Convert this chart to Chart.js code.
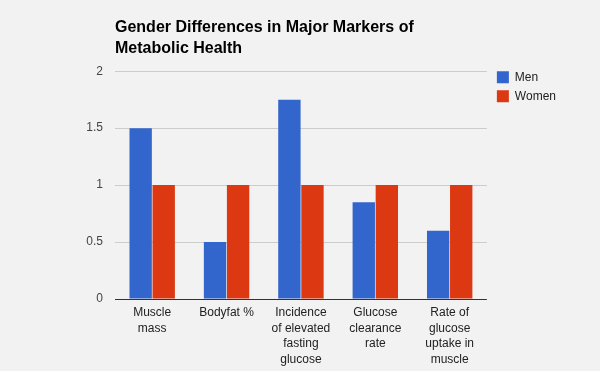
<!DOCTYPE html>
<html>
<head>
<meta charset="utf-8">
<script src="https://cdn.jsdelivr.net/npm/chart.js@4"></script>
<style>
  html, body { margin: 0; padding: 0; background: #f2f2f2; }
  #wrap { width: 600px; height: 371px; }
</style>
</head>
<body>
<div id="wrap"><canvas id="markersChart" width="600" height="371"></canvas></div>
<script>
const categories = [
    ['Muscle', 'mass'],
    ['Bodyfat %'],
    ['Incidence', 'of elevated', 'fasting', 'glucose'],
    ['Glucose', 'clearance', 'rate'],
    ['Rate of', 'glucose', 'uptake in', 'muscle']
];
const menValues = [1.5, 0.5, 1.75, 0.85, 0.6];
const womenValues = [1, 1, 1, 1, 1];
const yTicks = [0, 0.5, 1, 1.5, 2];

const baseFont = { family: "'Liberation Sans', Arial, sans-serif", size: 12 };

// nudge the legend up to the top of the plot area, like the original
const legendNudge = {
    id: 'legendNudge',
    afterUpdate(chart) {
        chart.legend.top -= 7;
        chart.legend.left += 3;
    }
};

new Chart(document.getElementById('markersChart'), {
    type: 'bar',
    data: {
        labels: categories,
        datasets: [
            { label: 'Men', data: menValues, backgroundColor: '#3366cc' },
            { label: 'Women', data: womenValues, backgroundColor: '#dc3912' }
        ]
    },
    options: {
        responsive: false,
        animation: false,
        layout: { padding: { left: 0, right: 37, top: 0, bottom: 0 } },
        datasets: { bar: { categoryPercentage: 0.62, barPercentage: 0.97 } },
        plugins: {
            title: {
                display: true,
                fullSize: false,
                align: 'start',
                text: ['Gender Differences in Major Markers of', 'Metabolic Health'],
                color: '#000',
                font: { family: baseFont.family, size: 16, weight: 'bold', lineHeight: 1.32 },
                padding: { top: 17, bottom: 12 }
            },
            legend: {
                position: 'right',
                align: 'start',
                fullSize: false,
                labels: {
                    boxWidth: 12,
                    boxHeight: 12,
                    padding: 7,
                    color: '#222',
                    font: baseFont
                }
            },
            tooltip: { enabled: false }
        },
        scales: {
            x: {
                grid: { display: false, drawTicks: false },
                border: { display: false },
                ticks: {
                    color: '#222',
                    font: { family: baseFont.family, size: 12, lineHeight: 1.3 },
                    padding: 6,
                    maxRotation: 0,
                    autoSkip: false
                },
                afterFit: (scale) => { scale.height = 72; }
            },
            y: {
                min: 0,
                max: 2,
                afterBuildTicks: (scale) => { scale.ticks = yTicks.map(v => ({ value: v })); },
                border: { display: false },
                grid: {
                    drawTicks: false,
                    color: (ctx) => ctx.tick && ctx.tick.value === 0 ? '#333' : '#cccccc'
                },
                ticks: {
                    color: '#444',
                    font: baseFont,
                    padding: 12,
                    callback: (value) => String(value)
                },
                afterFit: (scale) => { scale.width = 115; }
            }
        }
    },
    plugins: [legendNudge]
});
</script>
</body>
</html>
